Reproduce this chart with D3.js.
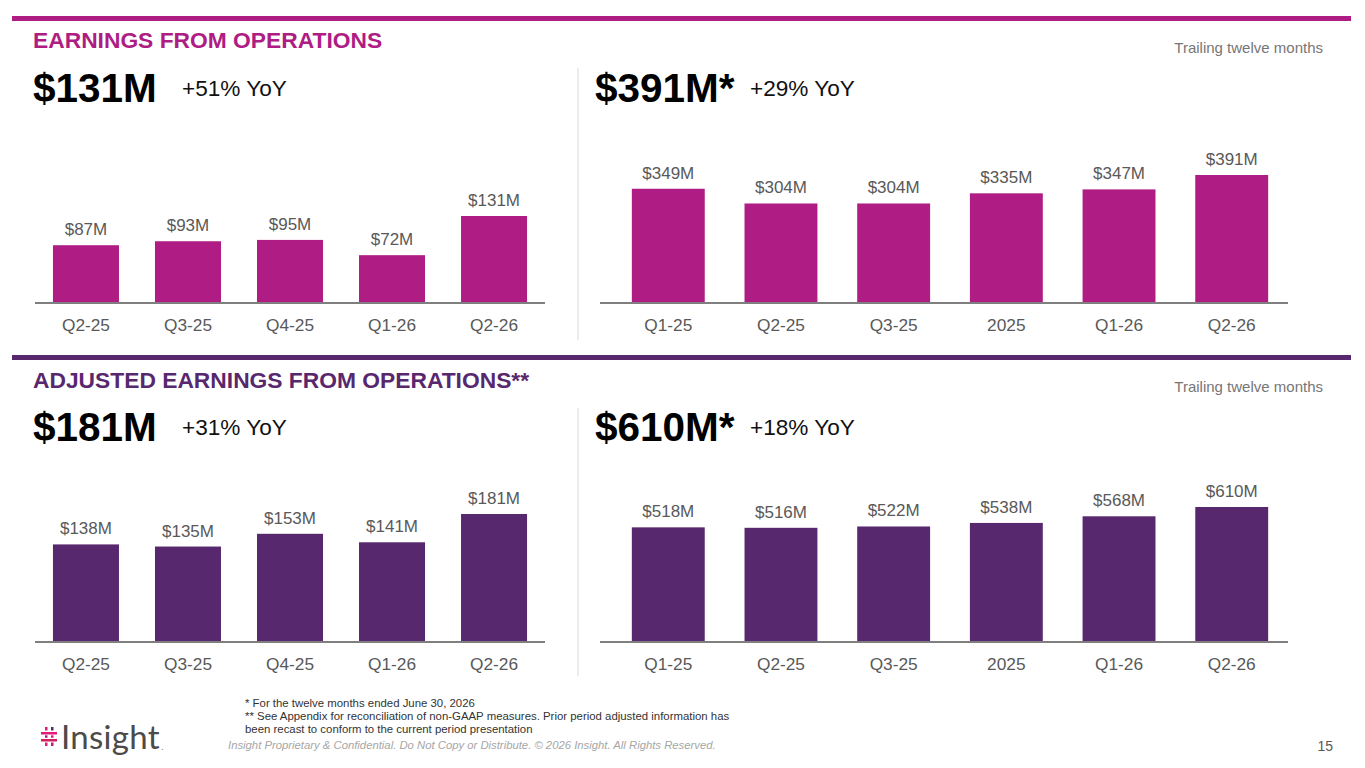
<!DOCTYPE html>
<html>
<head>
<meta charset="utf-8">
<script src="https://cdn.jsdelivr.net/npm/d3@7"></script>
<style>
  body { margin: 0; background: #fff; }
  svg { display: block; font-family: "Liberation Sans", Arial, sans-serif; }
</style>
</head>
<body>
<svg width="1365" height="768"></svg>
<script>
// data
var quarterCats = ["Q2-25", "Q3-25", "Q4-25", "Q1-26", "Q2-26"];
var ttmCats = ["Q1-25", "Q2-25", "Q3-25", "2025", "Q1-26", "Q2-26"];

var eofQuarter = [87, 93, 95, 72, 131];
var eofTtm = [349, 304, 304, 335, 347, 391];
var adjQuarter = [138, 135, 153, 141, 181];
var adjTtm = [518, 516, 522, 538, 568, 610];

var headlines = [
  {big: "$131M", yoy: "+51% YoY"},
  {big: "$391M*", yoy: "+29% YoY"},
  {big: "$181M", yoy: "+31% YoY"},
  {big: "$610M*", yoy: "+18% YoY"}
];

var magenta = "#ae1c84";
var purple = "#58286e";
var grey = "#595959";

var svg = d3.select("svg");

// panel layout
var panels = [
  {cats: quarterCats, vals: eofQuarter, x0: 35, x1: 545, base: 303, maxH: 87, color: magenta, hx: 33, hy: 102, yx: 182},
  {cats: ttmCats, vals: eofTtm, x0: 612, x1: 1288, base: 303, maxH: 128, color: magenta, hx: 595, hy: 102, yx: 750},
  {cats: quarterCats, vals: adjQuarter, x0: 35, x1: 545, base: 642, maxH: 128, color: purple, hx: 33, hy: 441, yx: 182},
  {cats: ttmCats, vals: adjTtm, x0: 612, x1: 1288, base: 642, maxH: 135, color: purple, hx: 595, hy: 441, yx: 750}
];

// section rules + titles
svg.append("rect").attr("x", 12).attr("y", 16).attr("width", 1339).attr("height", 5).attr("fill", magenta);
svg.append("rect").attr("x", 12).attr("y", 355).attr("width", 1339).attr("height", 5).attr("fill", purple);

svg.append("text").attr("x", 33).attr("y", 48).attr("font-size", 22.8).attr("font-weight", "bold")
  .attr("fill", magenta).text("EARNINGS FROM OPERATIONS");
svg.append("text").attr("x", 33).attr("y", 388).attr("font-size", 22.8).attr("font-weight", "bold")
  .attr("fill", purple).text("ADJUSTED EARNINGS FROM OPERATIONS**");

[53, 392].forEach(function(y){
  svg.append("text").attr("x", 1323).attr("y", y).attr("font-size", 15).attr("fill", "#767676")
    .attr("text-anchor", "end").text("Trailing twelve months");
});

// vertical dividers
svg.append("line").attr("x1", 578).attr("x2", 578).attr("y1", 68).attr("y2", 340).attr("stroke", "#d9d9d9");
svg.append("line").attr("x1", 578).attr("x2", 578).attr("y1", 408).attr("y2", 676).attr("stroke", "#d9d9d9");

panels.forEach(function(p, i){
  var x = d3.scaleBand().domain(p.cats).range([p.x0, p.x1]).paddingInner(0.353).paddingOuter(0.176);
  var y = d3.scaleLinear().domain([0, d3.max(p.vals)]).range([p.base, p.base - p.maxH]);
  var rows = p.cats.map(function(c, j){ return {cat: c, val: p.vals[j]}; });
  var g = svg.append("g");

  svg.append("text").attr("x", p.hx).attr("y", p.hy).attr("font-size", 40.5).attr("font-weight", "bold")
    .attr("fill", "#000").text(headlines[i].big);
  svg.append("text").attr("x", p.yx).attr("y", p.hy - 6).attr("font-size", 22.6)
    .attr("fill", "#111").text(headlines[i].yoy);

  g.selectAll("rect")
    .data(rows)
    .join("rect")
    .attr("x", d => x(d.cat))
    .attr("y", d => y(d.val))
    .attr("width", x.bandwidth())
    .attr("height", d => p.base - y(d.val))
    .attr("fill", p.color);

  g.selectAll("text.val")
    .data(rows)
    .join("text")
    .attr("class", "val")
    .attr("x", d => x(d.cat) + x.bandwidth() / 2)
    .attr("y", d => y(d.val) - 10)
    .attr("text-anchor", "middle")
    .attr("font-size", 17)
    .attr("fill", grey)
    .text(d => "$" + d.val + "M");

  // baseline axis, category labels only
  var ax = svg.append("g")
    .attr("transform", "translate(0," + p.base + ")")
    .call(d3.axisBottom(x).tickSize(0).tickPadding(16));
  ax.select(".domain").attr("stroke", "#7f7f7f").attr("stroke-width", 2)
    .attr("d", "M" + (p.x0 - (i % 2 ? 12 : 0)) + ",0H" + (p.x1));
  ax.selectAll("text").attr("font-size", 17.3).attr("fill", grey)
    .attr("font-family", "Liberation Sans, Arial, sans-serif");
});

// footnotes
var notes = [
  "* For the twelve months ended June 30, 2026",
  "** See Appendix for reconciliation of non-GAAP measures. Prior period adjusted information has",
  "been recast to conform to the current period presentation"
];
svg.append("g").selectAll("text").data(notes).join("text")
  .attr("x", 245).attr("y", (d, i) => 707 + i * 13)
  .attr("font-size", 11.4).attr("fill", "#333").text(d => d);

svg.append("text").attr("x", 228).attr("y", 749).attr("font-size", 11.3).attr("font-style", "italic")
  .attr("fill", "#a6a6a6")
  .text("Insight Proprietary & Confidential. Do Not Copy or Distribute. \u00a9 2026 Insight. All Rights Reserved.");

svg.append("text").attr("x", 1333).attr("y", 751).attr("font-size", 14).attr("text-anchor", "end")
  .attr("fill", grey).text("15");

// logo: broken cross mark + wordmark
var logo = svg.append("g").attr("transform", "translate(41,727)");
var pink = "#e3197b";
[[0, 5, 16, 2.5, pink], [0, 12, 16, 2.5, "#d21d5e"],
 [4, 0, 2.5, 3.5, pink], [4, 8.3, 2.5, 2.5, magenta], [4, 15.5, 2.5, 3.5, pink],
 [10, 0, 2.5, 3.5, purple], [10, 8.3, 2.5, 2.5, pink], [10, 15.5, 2.5, 3.5, magenta]]
  .forEach(function(r){
    logo.append("rect").attr("x", r[0]).attr("y", r[1]).attr("width", r[2]).attr("height", r[3]).attr("fill", r[4]);
  });
logo.append("text").attr("x", 20).attr("y", 22).attr("font-size", 33).attr("letter-spacing", 0.3)
  .attr("font-family", "Lato, 'Open Sans', sans-serif")
  .attr("fill", "#4d4a4a").text("Insight");
logo.append("text").attr("x", 120).attr("y", 23).attr("font-size", 10).attr("fill", "#888").text(".");
</script>
</body>
</html>
